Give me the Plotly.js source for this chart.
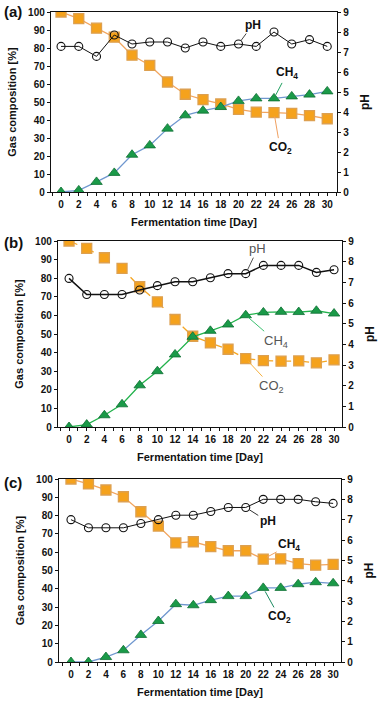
<!DOCTYPE html>
<html>
<head>
<meta charset="utf-8">
<script src="https://cdn.plot.ly/plotly-3.0.1.min.js"></script>
<style>
  html, body { margin: 0; padding: 0; background: #fff; }
  #chart { width: 387px; height: 703px; }
</style>
</head>
<body>
<div id="chart"></div>
<script>
// Fermentation days (same for all panels)
const days = [0, 2, 4, 6, 8, 10, 12, 14, 16, 18, 20, 22, 24, 26, 28, 30];
const dayTicks = [0, 2, 4, 6, 8, 10, 12, 14, 16, 18, 20, 22, 24, 26, 28, 30];

// Panel (a)
const co2A = [100, 96.3, 91, 86, 76, 70.4, 61.1, 54.3, 51.3, 48.9, 45.9, 44.4, 44.1, 43.7, 42.4, 40.7];
const ch4A = [0, 0.9, 5.6, 10.6, 20.7, 25.9, 35.2, 42.6, 45.2, 47.2, 50.6, 52, 52, 53.1, 54.1, 55.9];
const phA = [7.28, 7.28, 6.78, 7.85, 7.4, 7.5, 7.5, 7.2, 7.5, 7.28, 7.4, 7.28, 8.0, 7.4, 7.62, 7.28];

// Panel (b)
const co2B = [100, 96, 91, 85.3, 75.4, 67.3, 57.8, 48.8, 45.2, 41.8, 36.8, 35.7, 35.4, 35.5, 34.5, 36.1];
const ch4B = [0, 1.3, 6.3, 12.2, 22.4, 30, 39, 48.5, 51.7, 55.1, 60.1, 61.6, 61.9, 61.8, 62.5, 61];
const phB = [7.19, 6.41, 6.41, 6.41, 6.63, 6.84, 7.03, 7.03, 7.22, 7.42, 7.42, 7.82, 7.82, 7.82, 7.48, 7.61];

// Panel (c) - squares are labelled CH4, triangles CO2 in the original
const sqC = [100, 97.3, 94, 90.3, 82.1, 74.3, 65.1, 65.7, 63, 60.8, 60.8, 56.2, 56.4, 53.8, 52.9, 53.3];
const triC = [0, 0, 2.7, 6.4, 14.8, 22.4, 31.6, 31, 33.8, 36, 36, 40.5, 40.5, 42.5, 43.6, 43];
const phC = [7.0, 6.6, 6.6, 6.6, 6.81, 7.0, 7.22, 7.22, 7.4, 7.6, 7.6, 8.0, 8.0, 8.0, 7.88, 7.8];

const gasTicks = [0, 10, 20, 30, 40, 50, 60, 70, 80, 90, 100];
const phTicks = [0, 1, 2, 3, 4, 5, 6, 7, 8, 9];

const W = 387, H = 703;
const FONT = 'Liberation Sans, Arial, sans-serif';

// colours
const orangeFill = '#F5A21C', orangeEdge = '#DDA050', orangeLine = '#F2A55E';
const greenFill = '#1A9A48', greenEdge = '#0E6E33';
const blueLine = '#6F97CF';

function squares(x, y, xa, ya, lineColor, dash) {
  return {
    x: x, y: y, xaxis: xa, yaxis: ya, mode: 'lines+markers', type: 'scatter',
    line: { color: lineColor, width: 1.3, dash: dash || 'solid' },
    marker: { symbol: 'square', size: 10, color: orangeFill, line: { color: orangeEdge, width: 1.3 } },
    showlegend: false
  };
}
function triangles(x, y, xa, ya, lineColor) {
  return {
    x: x, y: y, xaxis: xa, yaxis: ya, mode: 'lines+markers', type: 'scatter',
    line: { color: lineColor, width: 1.3 },
    marker: { symbol: 'triangle-up', size: 10, color: greenFill, line: { color: greenEdge, width: 0.8 } },
    showlegend: false
  };
}
function circles(x, y, xa, ya, w) {
  return {
    x: x, y: y, xaxis: xa, yaxis: ya, mode: 'lines+markers', type: 'scatter',
    line: { color: '#111', width: w },
    marker: { symbol: 'circle-open', size: 8, color: '#111', line: { width: 1.1 } },
    showlegend: false
  };
}

const data = [
  circles(days, phA, 'x', 'y2', 1),
  squares(days, co2A, 'x', 'y', orangeLine),
  triangles(days, ch4A, 'x', 'y', blueLine),

  circles(days, phB, 'x2', 'y4', 1.5),
  squares(days, co2B, 'x2', 'y3', '#F5A623', 'dash'),
  triangles(days, ch4B, 'x2', 'y3', '#22B24C'),

  circles(days, phC, 'x3', 'y6', 1),
  squares(days, sqC, 'x3', 'y5', orangeLine),
  triangles(days, triC, 'x3', 'y5', blueLine)
];

// pixel boxes of the three plot areas
const boxes = [
  { l: 51, r: 337, t: 12, b: 192, xr: [-1.13, 31.1] },
  { l: 58, r: 342, t: 241, b: 427, xr: [-1.25, 30.9] },
  { l: 59, r: 341, t: 479, b: 662, xr: [-1.37, 30.9] }
];

const tickFont = { family: FONT, size: 10, color: '#111', weight: 'bold' };
const titleFont = { family: FONT, size: 11, color: '#111', weight: 'bold' };

const layout = {
  width: W, height: H,
  margin: { l: 0, r: 0, t: 0, b: 0 },
  paper_bgcolor: '#fff', plot_bgcolor: '#fff',
  font: { family: FONT },
  annotations: []
};

boxes.forEach((bx, i) => {
  const n = i + 1;
  const xk = n === 1 ? 'xaxis' : 'xaxis' + n;
  const yl = 2 * i + 1, yr = 2 * i + 2;
  const ylk = yl === 1 ? 'yaxis' : 'yaxis' + yl;
  const yrk = 'yaxis' + yr;
  const xref = n === 1 ? 'x' : 'x' + n;
  const ylref = yl === 1 ? 'y' : 'y' + yl;
  const dx = [bx.l / W, bx.r / W];
  const dy = [1 - bx.b / H, 1 - bx.t / H];

  layout[xk] = {
    domain: dx, anchor: ylref, range: bx.xr,
    tickvals: dayTicks, ticks: 'outside', ticklen: 3, tickwidth: 1, tickcolor: '#111',
    minor: { dtick: 1, tick0: 1, ticks: 'outside', ticklen: 3, tickcolor: '#111' },
    showline: true, linecolor: '#111', linewidth: 1.2, mirror: true,
    showgrid: false, zeroline: false, tickfont: tickFont,
    title: { text: 'Fermentation time [Day]', font: titleFont, standoff: 9 }
  };
  layout[ylk] = {
    domain: dy, anchor: xref, range: [0, 100],
    tickvals: gasTicks, ticks: 'outside', ticklen: 3, tickcolor: '#111',
    showline: true, linecolor: '#111', linewidth: 1.2,
    showgrid: false, zeroline: false, tickfont: tickFont,
    title: { text: 'Gas composition [%]', font: titleFont, standoff: 9 }
  };
  layout[yrk] = {
    domain: dy, anchor: xref, overlaying: ylref, side: 'right', range: [0, 9],
    tickvals: phTicks, ticks: 'outside', ticklen: 3, tickcolor: '#111',
    showline: true, linecolor: '#111', linewidth: 1.2,
    showgrid: false, zeroline: false, tickfont: tickFont,
    title: { text: 'pH', font: { family: FONT, size: 12, color: '#111', weight: 'bold' }, standoff: 12 }
  };
});

// panel letters
[['(a)', 12], ['(b)', 243], ['(c)', 482]].forEach(([t, py]) => {
  layout.annotations.push({
    xref: 'paper', yref: 'paper', x: 2 / W, y: 1 - py / H, xanchor: 'left', yanchor: 'middle',
    text: t, showarrow: false, font: { family: FONT, size: 15, color: '#111', weight: 'bold' }
  });
});

// callouts: [xref, yref, day, value, text, ax, ay, arrowColor, fontColor, bold, size]
const callouts = [
  ['x', 'y2', 20, phA[10], 'pH', 14, -19, '#444', '#111', true, 12],
  ['x', 'y', 24, ch4A[12], 'CH<sub>4</sub>', 13, -25, '#1FA060', '#111', true, 12],
  ['x', 'y', 24, co2A[12], 'CO<sub>2</sub>', 6, 35, '#F0A060', '#111', true, 12],

  ['x2', 'y4', 20, phB[10], 'pH', 12, -25, '#555', '#555', false, 13],
  ['x2', 'y3', 20, ch4B[10], 'CH<sub>4</sub>', 30, 26, '#3CC070', '#555', false, 13],
  ['x2', 'y3', 20, co2B[10], 'CO<sub>2</sub>', 26, 28, '#F5B040', '#555', false, 13],

  ['x3', 'y6', 20, phC[10], 'pH', 22, 14, '#333', '#111', true, 12],
  ['x3', 'y5', 22, sqC[11], 'CH<sub>4</sub>', 26, -14, '#F0A060', '#111', true, 12],
  ['x3', 'y5', 22, triC[11], 'CO<sub>2</sub>', 16, 29, '#1A8A60', '#111', true, 12]
];
callouts.forEach(([xr, yr, x, y, t, ax, ay, ac, fc, b, s]) => {
  layout.annotations.push({
    xref: xr, yref: yr, x: x, y: y, text: t,
    showarrow: true, arrowhead: 0, arrowwidth: 1, arrowcolor: ac,
    ax: ax, ay: ay, standoff: 4,
    font: { family: FONT, size: s, color: fc, weight: b ? 'bold' : 'normal' }
  });
});

Plotly.newPlot('chart', data, layout, { displayModeBar: false, staticPlot: true });
</script>
</body>
</html>
